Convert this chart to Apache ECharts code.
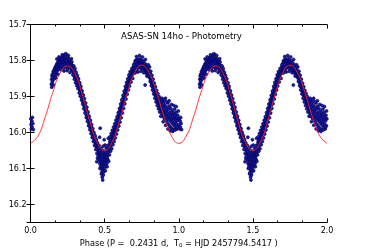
<!DOCTYPE html>
<html><head><meta charset="utf-8">
<script src="https://cdn.jsdelivr.net/npm/echarts@6/dist/echarts.min.js"></script>
<style>html,body{margin:0;padding:0;background:#fff}#c{width:365px;height:248px}</style>
</head><body><div id="c"></div>
<script>
// Phase-folded photometry (phase, V mag) for one cycle; plotted for cycles 0 and 1
const obs = [
[0.002,15.962],[0.004,15.978],[0.006,15.990],[0.009,15.968],[0.011,15.985],[0.013,15.958],[0.016,15.975],[0.019,15.992],
[0.141,15.866],[0.142,15.852],[0.143,15.874],[0.145,15.843],[0.146,15.861],[0.148,15.838],[0.150,15.856],[0.152,15.847],[0.153,15.831],[0.155,15.868],[0.157,15.840],[0.159,15.826],[0.161,15.851],[0.163,15.834],[0.165,15.820],[0.167,15.842],[0.169,15.828],[0.171,15.815],[0.173,15.836],[0.175,15.822],[0.177,15.810],[0.179,15.829],[0.181,15.817],[0.183,15.806],[0.185,15.825],[0.187,15.812],[0.189,15.803],[0.191,15.820],[0.193,15.808],[0.195,15.798],[0.197,15.816],[0.199,15.805],
[0.201,15.795],[0.203,15.812],[0.205,15.801],[0.207,15.819],[0.209,15.792],[0.211,15.807],[0.213,15.815],[0.215,15.798],[0.217,15.788],[0.219,15.810],[0.221,15.803],[0.223,15.821],[0.225,15.794],[0.227,15.806],[0.229,15.785],[0.231,15.813],[0.233,15.799],[0.235,15.808],[0.237,15.791],[0.239,15.818],[0.241,15.802],[0.243,15.783],[0.245,15.811],[0.247,15.796],[0.249,15.806],[0.251,15.823],[0.253,15.793],[0.255,15.809],[0.257,15.800],[0.259,15.815],[0.261,15.797],[0.263,15.811],[0.265,15.804],[0.267,15.820],[0.269,15.801],[0.271,15.814],[0.273,15.808],[0.275,15.826],[0.277,15.812],[0.279,15.804],[0.281,15.821],[0.283,15.815],[0.285,15.830],[0.287,15.818],[0.289,15.826],
[0.291,15.838],[0.293,15.824],[0.295,15.832],[0.297,15.845],[0.299,15.829],[0.301,15.840],[0.303,15.851],[0.305,15.836],[0.307,15.847],[0.309,15.858],[0.311,15.843],[0.313,15.853],[0.315,15.862],[0.317,15.849],[0.319,15.868],[0.321,15.857],[0.323,15.872],[0.325,15.862],[0.327,15.876],[0.329,15.866],[0.331,15.881],[0.333,15.871],[0.335,15.887],[0.337,15.878],[0.339,15.892],[0.341,15.884],[0.343,15.898],[0.345,15.889],[0.347,15.904],[0.349,15.895],[0.351,15.910],[0.353,15.901],[0.355,15.916],[0.357,15.907],[0.359,15.922],
[0.361,15.914],[0.363,15.928],[0.365,15.919],[0.367,15.934],[0.369,15.925],[0.371,15.940],[0.373,15.931],[0.375,15.946],[0.377,15.937],[0.379,15.952],[0.381,15.943],[0.383,15.958],[0.385,15.949],[0.387,15.963],[0.389,15.955],[0.391,15.969],[0.393,15.960],[0.395,15.975],[0.397,15.966],[0.399,15.981],[0.401,15.972],[0.403,15.986],[0.405,15.977],[0.407,15.991],[0.409,15.983],[0.411,15.996],[0.413,15.988],[0.415,16.001],[0.417,15.993],[0.419,16.006],[0.421,15.998],[0.423,16.011],[0.425,16.003],[0.427,16.016],[0.429,16.008],[0.431,16.021],[0.433,16.012],[0.435,16.026],[0.437,16.017],[0.439,16.031],[0.441,16.022],[0.443,16.036],[0.445,16.027],[0.447,16.041],[0.449,16.032],[0.451,16.046],[0.453,16.037],[0.455,16.050],[0.457,16.041],[0.459,16.056],[0.447,16.081],[0.452,16.072],
[0.461,16.047],[0.462,16.068],[0.464,16.058],[0.465,16.079],[0.467,16.052],[0.468,16.087],[0.470,16.064],[0.471,16.074],[0.473,16.095],[0.474,16.057],[0.476,16.083],[0.477,16.069],[0.479,16.101],[0.480,16.061],[0.482,16.090],[0.483,16.076],[0.485,16.108],[0.486,16.066],[0.488,16.085],[0.489,16.097],[0.491,16.072],[0.492,16.058],[0.494,16.092],[0.495,16.080],[0.497,16.104],[0.498,16.065],[0.500,16.087],[0.501,16.075],[0.503,16.096],[0.504,16.060],[0.506,16.082],[0.507,16.070],[0.509,16.091],[0.510,16.055],[0.512,16.078],[0.513,16.066],[0.515,16.086],[0.516,16.050],[0.518,16.071],[0.520,16.061],[0.522,16.076],[0.524,16.046],[0.526,16.062],[0.528,16.052],
[0.484,16.124],[0.487,16.132],[0.478,16.115],[0.491,16.118],[0.466,16.013],[0.470,15.988],[0.497,16.020],[0.503,16.035],[0.525,16.016],[0.490,16.038],
[0.530,16.050],[0.531,16.034],[0.534,16.044],[0.535,16.026],[0.538,16.040],[0.539,16.021],[0.542,16.035],[0.543,16.017],[0.546,16.030],[0.547,16.013],[0.550,16.033],[0.551,16.011],[0.554,16.022],[0.555,16.006],[0.558,16.018],[0.559,15.999],[0.562,16.012],[0.563,15.995],[0.566,16.007],[0.567,15.990],[0.570,16.001],[0.571,15.985],[0.574,15.996],[0.575,15.979],[0.578,15.990],[0.579,15.974],[0.582,15.986],[0.583,15.968],[0.586,15.980],[0.587,15.962],[0.590,15.975],[0.591,15.956],[0.594,15.968],[0.595,15.951],[0.598,15.962],[0.599,15.944],[0.602,15.957],[0.603,15.939],[0.606,15.950],[0.607,15.933],[0.610,15.945],[0.611,15.927],[0.614,15.938],[0.615,15.920],[0.618,15.932],[0.619,15.914],[0.622,15.926],[0.623,15.908],[0.626,15.920],[0.627,15.902],[0.630,15.914],[0.631,15.896],[0.634,15.907],[0.635,15.890],[0.638,15.901],[0.639,15.884],[0.642,15.895],[0.643,15.878],[0.646,15.889],[0.647,15.872],[0.650,15.882],[0.651,15.867],[0.654,15.877],[0.655,15.861],[0.658,15.871],[0.659,15.856],[0.662,15.866],[0.663,15.851],[0.666,15.861],[0.667,15.846],[0.670,15.856],[0.671,15.841],[0.675,15.850],[0.676,15.836],[0.680,15.845],[0.681,15.831],[0.685,15.840],[0.686,15.826],[0.690,15.836],[0.691,15.822],[0.695,15.832],[0.696,15.818],[0.700,15.828],[0.701,15.814],
[0.702,15.808],[0.704,15.822],[0.706,15.801],[0.708,15.816],[0.710,15.829],[0.712,15.805],[0.714,15.818],[0.716,15.797],[0.718,15.811],[0.720,15.824],[0.722,15.803],[0.724,15.815],[0.726,15.798],[0.728,15.809],[0.730,15.820],[0.732,15.801],[0.734,15.813],[0.736,15.795],[0.738,15.807],[0.740,15.818],[0.742,15.800],[0.744,15.811],[0.746,15.804],[0.748,15.822],[0.750,15.809],[0.752,15.799],[0.754,15.815],[0.756,15.806],[0.758,15.824],[0.760,15.812],[0.762,15.803],[0.764,15.819],[0.766,15.811],[0.768,15.828],[0.770,15.816],[0.772,15.808],[0.774,15.824],[0.776,15.815],[0.778,15.833],[0.780,15.821],[0.782,15.813],[0.784,15.829],[0.786,15.822],[0.788,15.839],[0.790,15.828],[0.792,15.820],[0.794,15.836],[0.796,15.830],[0.798,15.846],[0.800,15.835],[0.773,15.868],
[0.802,15.829],[0.804,15.844],[0.806,15.836],[0.808,15.851],[0.810,15.841],[0.812,15.856],[0.814,15.847],[0.816,15.862],[0.818,15.852],[0.820,15.867],[0.822,15.858],[0.824,15.873],[0.826,15.863],[0.828,15.878],[0.830,15.869],[0.832,15.884],[0.834,15.874],[0.836,15.889],[0.838,15.879],[0.840,15.894],[0.842,15.884],[0.844,15.899],[0.846,15.889],[0.848,15.904],[0.850,15.894],[0.852,15.909],[0.854,15.898],[0.856,15.914],[0.858,15.903],[0.860,15.918],[0.862,15.907],[0.864,15.923],[0.866,15.911],[0.868,15.927],[0.870,15.915],[0.872,15.931],[0.874,15.919],[0.876,15.935],
[0.878,15.922],[0.880,15.941],[0.882,15.915],[0.884,15.933],[0.886,15.948],[0.888,15.926],[0.890,15.912],[0.892,15.939],[0.894,15.955],[0.896,15.930],[0.898,15.918],[0.900,15.945],[0.902,15.961],[0.904,15.936],[0.906,15.924],[0.908,15.951],[0.910,15.905],[0.912,15.942],[0.914,15.966],[0.916,15.929],[0.918,15.956],[0.920,15.938],[0.922,15.972],[0.924,15.947],[0.926,15.918],[0.928,15.960],[0.930,15.935],[0.932,15.978],[0.934,15.952],[0.936,15.927],[0.938,15.965],[0.940,15.944],[0.942,15.983],[0.944,15.958],[0.946,15.933],[0.948,15.970],[0.950,15.949],[0.952,15.988],[0.954,15.962],[0.956,15.940],[0.958,15.975],[0.960,15.954],[0.962,15.992],[0.964,15.967],[0.966,15.946],[0.968,15.980],[0.970,15.958],[0.972,15.935],[0.974,15.972],[0.976,15.951],[0.978,15.986],[0.980,15.963],[0.982,15.944],[0.984,15.977],[0.986,15.958],[0.988,15.990],[0.990,15.968],[0.993,15.952],[0.996,15.981],[0.999,15.962]
];
// Additional, more scattered observations widening the band
const obsWide = [
[0.292,15.815],[0.296,15.852],[0.300,15.822],[0.304,15.862],[0.308,15.833],[0.312,15.870],[0.316,15.842],[0.320,15.878],[0.324,15.851],[0.328,15.890],[0.332,15.862],[0.336,15.899],[0.340,15.872],[0.344,15.910],[0.348,15.884],[0.352,15.921],[0.356,15.896],[0.360,15.934],[0.364,15.906],[0.368,15.946],[0.372,15.918],[0.376,15.958],[0.380,15.930],[0.384,15.969],[0.388,15.943],[0.392,15.981],[0.396,15.955],[0.400,15.992],[0.404,15.966],[0.408,16.003],[0.412,15.978],[0.416,16.014],[0.420,15.989],[0.424,16.025],[0.428,16.000],[0.432,16.036],[0.436,16.009],[0.440,16.047],[0.444,16.020],[0.448,16.058],[0.452,16.029],[0.456,16.066],
[0.532,16.062],[0.536,16.012],[0.540,16.052],[0.544,16.003],[0.548,16.045],[0.552,15.994],[0.556,16.034],[0.560,15.985],[0.564,16.025],[0.568,15.976],[0.572,16.015],[0.576,15.966],[0.580,16.004],[0.584,15.956],[0.588,15.993],[0.592,15.945],[0.596,15.982],[0.600,15.933],[0.604,15.971],[0.608,15.921],[0.612,15.959],[0.616,15.909],[0.620,15.946],[0.624,15.897],[0.628,15.933],[0.632,15.885],[0.636,15.920],[0.640,15.872],[0.644,15.907],[0.648,15.861],[0.652,15.894],[0.656,15.851],[0.660,15.882],[0.664,15.840],[0.668,15.871],[0.672,15.831],[0.678,15.860],[0.684,15.822],[0.690,15.850],[0.696,15.812],
[0.803,15.818],[0.807,15.858],[0.811,15.830],[0.815,15.870],[0.819,15.841],[0.823,15.882],[0.827,15.852],[0.831,15.893],[0.835,15.863],[0.839,15.905],[0.843,15.873],[0.847,15.915],[0.851,15.883],[0.855,15.925],[0.859,15.892],[0.863,15.934],[0.867,15.900],[0.871,15.943],[0.875,15.907],
[0.172,15.848],[0.178,15.796],[0.186,15.838],[0.192,15.790],[0.204,15.826],[0.214,15.784],[0.226,15.829],[0.236,15.781],[0.246,15.828],[0.256,15.786],[0.266,15.833],[0.276,15.795],[0.286,15.840],
[0.705,15.835],[0.715,15.789],[0.725,15.832],[0.735,15.786],[0.745,15.830],[0.755,15.790],[0.765,15.834],[0.775,15.797],[0.785,15.843],[0.795,15.812],
[0.463,16.036],[0.469,16.100],[0.475,16.044],[0.481,16.112],[0.487,16.050],[0.493,16.110],[0.499,16.052],[0.505,16.106],[0.511,16.043],[0.517,16.095],[0.523,16.036],[0.527,16.080],
[0.879,15.955],[0.887,15.905],[0.895,15.970],[0.903,15.910],[0.911,15.980],[0.919,15.915],[0.927,15.990],[0.935,15.912],[0.943,15.995],[0.951,15.922],[0.959,15.997],[0.967,15.925],[0.975,15.993],[0.983,15.928],[0.991,15.985],[0.997,15.940]
];
// Model curve (red) read at phase steps of 0.05 over one cycle
const modelPhase = [0,0.05,0.1,0.15,0.2,0.25,0.3,0.35,0.4,0.45,0.5,0.55,0.6,0.65,0.7,0.75,0.8,0.85,0.9,0.95,1.0];
const modelMag = [16.030,16.010,15.956,15.889,15.835,15.815,15.837,15.896,15.969,16.028,16.050,16.027,15.968,15.895,15.836,15.813,15.834,15.888,15.955,16.009,16.030];
const cycles = [0, 1];
const xTicks = [0, 0.5, 1.0, 1.5, 2.0];
const yTicks = [15.7, 15.8, 15.9, 16.0, 16.1, 16.2];

const obsData = [];
cycles.forEach(c => obs.concat(obsWide).forEach(p => obsData.push([p[0] + c, p[1]])));
const modelData = [];
cycles.forEach(c => modelPhase.forEach((ph, i) => { if (c > 0 && i === 0) return; modelData.push([ph + c, modelMag[i]]); }));

const FONT = 'DejaVu Sans';
const axLine = {show: true, lineStyle: {color: '#000', width: 1}};
const fmtY = v => yTicks.some(t => Math.abs(t - v) < 1e-6) ? v.toFixed(1) : '';
const fmtX = v => xTicks.some(t => Math.abs(t - v) < 1e-6) ? v.toFixed(1) : '';

const chart = echarts.init(document.getElementById('c'), null, {renderer: 'canvas'});
chart.setOption({
  animation: false,
  backgroundColor: '#fff',
  title: {text: 'ASAS-SN 14ho - Photometry', left: 121, top: 32, padding: 0,
    textStyle: {fontFamily: FONT, fontSize: 8.6, fontWeight: 'normal', color: '#000'}},
  grid: {left: 30.5, right: 38, top: 24.5, bottom: 25.5, containLabel: false, outerBoundsMode: 'none'},
  xAxis: [
    {type: 'value', min: 0, max: 2, interval: 0.5, position: 'bottom',
     axisLine: axLine, splitLine: {show: false},
     axisTick: {show: true, inside: true, length: 4, lineStyle: {color: '#000'}},
     minorTick: {show: true, splitNumber: 3, length: 2, lineStyle: {color: '#000'}},
     axisLabel: {formatter: fmtX, fontFamily: FONT, fontSize: 8, color: '#000', margin: 4},
     name: 'Phase (P =  0.2431 d,  T{s|0} = HJD 2457794.5417 )',
     nameLocation: 'middle', nameGap: 16,
     nameTextStyle: {fontFamily: FONT, fontSize: 8.2, color: '#000',
       rich: {s: {fontFamily: FONT, fontSize: 5.5, color: '#000', verticalAlign: 'bottom', padding: [4, 0, 0, 0]}}}},
    {type: 'value', min: 0, max: 2, interval: 0.5, position: 'top',
     axisLine: axLine, splitLine: {show: false},
     axisTick: {show: true, inside: true, length: 4, lineStyle: {color: '#000'}},
     minorTick: {show: true, splitNumber: 3, length: 2, lineStyle: {color: '#000'}},
     axisLabel: {show: false}}
  ],
  yAxis: [
    {type: 'value', min: 15.7, max: 16.25, interval: 0.1, inverse: true, position: 'left',
     axisLine: axLine, splitLine: {show: false},
     axisTick: {show: true, inside: true, length: 4, lineStyle: {color: '#000'}},
     axisLabel: {formatter: fmtY, fontFamily: FONT, fontSize: 8, color: '#000', margin: 4, showMaxLabel: false},
     name: 'Approximate V [mag]', nameLocation: 'middle', nameGap: 24,
     nameTextStyle: {fontFamily: FONT, fontSize: 8, color: '#000'}},
    {type: 'value', min: 15.7, max: 16.25, interval: 0.1, inverse: true, position: 'right',
     axisLine: axLine, splitLine: {show: false},
     axisTick: {show: true, inside: true, length: 4, lineStyle: {color: '#000'}},
     axisLabel: {show: false}}
  ],
  series: [
    {type: 'scatter', xAxisIndex: 0, yAxisIndex: 0, data: obsData, symbol: 'circle', symbolSize: 3,
     itemStyle: {color: '#1a1ab4', borderColor: '#000040', borderWidth: 0.6, opacity: 1}, z: 2},
    {type: 'line', xAxisIndex: 0, yAxisIndex: 0, data: modelData, smooth: 0.5, showSymbol: false, symbol: 'none',
     lineStyle: {color: '#ff2020', width: 0.9}, z: 3}
  ]
});
</script></body></html>
